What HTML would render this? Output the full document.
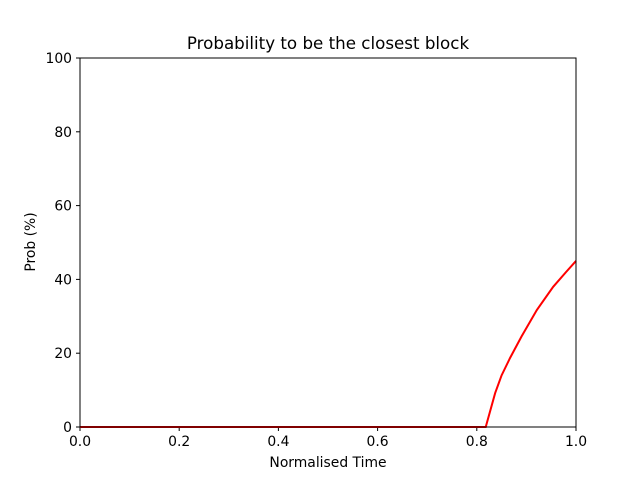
<!DOCTYPE html>
<html><head><meta charset="utf-8"><style>
body{margin:0;background:#fff}
text{font-family:"DejaVu Sans","Liberation Sans",sans-serif;fill:#000}
</style></head><body>
<svg id="chart" width="640" height="480">
<rect width="640" height="480" fill="#fff"/>
<text x="328" y="49" font-size="16.7" text-anchor="middle">Probability to be the closest block</text>
<g id="ticks"></g>
<polyline id="line" fill="none" stroke="#ff0000" stroke-width="2"/>
<rect x="80" y="58" width="496" height="369" fill="none" stroke="#000" stroke-width="1"/>
<text x="328" y="467" font-size="13.9" text-anchor="middle">Normalised Time</text>
<text transform="translate(35,242) rotate(-90)" font-size="13.9" text-anchor="middle">Prob (%)</text>
</svg>
<script>
const xs=[0,0.2,0.4,0.6,0.8,0.818,0.837,0.85,0.867,0.89,0.921,0.954,0.98,1.0];
const ys=[0,0,0,0,0,0,9.2,14,18.7,24.5,31.7,38,42,45];
const xTicks=[0,0.2,0.4,0.6,0.8,1.0];
const yTicks=[0,20,40,60,80,100];
const X=v=>80+496*v, Y=v=>427-3.69*v;
const ns="http://www.w3.org/2000/svg";
const g=document.getElementById('ticks');
xTicks.forEach(t=>{
 const l=document.createElementNS(ns,'line');
 l.setAttribute('x1',X(t));l.setAttribute('x2',X(t));l.setAttribute('y1',427);l.setAttribute('y2',431);l.setAttribute('stroke','#000');
 
 
 g.appendChild(l);
 const tx=document.createElementNS(ns,'text');
 tx.setAttribute('x',X(t));tx.setAttribute('y',446);tx.setAttribute('font-size','13.9');tx.setAttribute('text-anchor','middle');
 tx.textContent=t.toFixed(1);
 
 
 g.appendChild(tx);
});
yTicks.forEach(t=>{
 const l=document.createElementNS(ns,'line');
 l.setAttribute('x1',76);l.setAttribute('x2',80);l.setAttribute('y1',Y(t));l.setAttribute('y2',Y(t));l.setAttribute('stroke','#000');
 
 
 g.appendChild(l);
 const tx=document.createElementNS(ns,'text');
 tx.setAttribute('x',72);tx.setAttribute('y',Y(t)+5);tx.setAttribute('font-size','13.9');tx.setAttribute('text-anchor','end');
 tx.textContent=t;
 
 
 g.appendChild(tx);
});
document.getElementById('line').setAttribute('points',xs.map((x,i)=>X(x)+','+Y(ys[i])).join(' '));
</script>
</body></html>
